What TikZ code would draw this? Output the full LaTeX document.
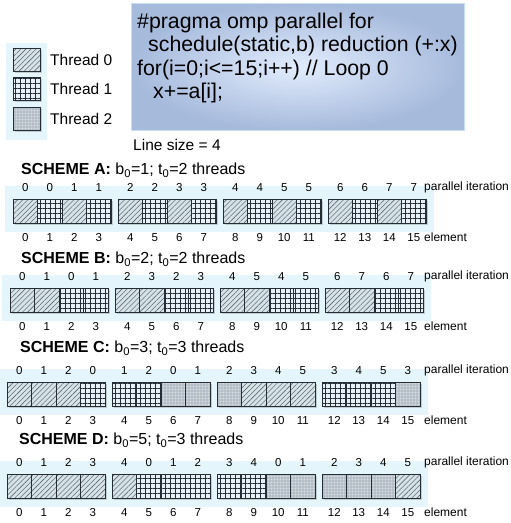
\documentclass[tikz,border=0pt]{standalone}
\usepackage{fontspec}
\setmainfont{Liberation Sans}
\usetikzlibrary{positioning, patterns.meta, shadows}
\definecolor{glow}{RGB}{228,246,252}
\definecolor{hatchbg}{RGB}{212,226,234}
\definecolor{gridbg}{RGB}{230,240,246}
\definecolor{dotbg}{RGB}{176,186,196}
\definecolor{codein}{RGB}{226,236,253}
\definecolor{codeout}{RGB}{166,186,220}
\definecolor{codeedge}{RGB}{200,222,242}
\definecolor{cellline}{RGB}{36,44,54}

\newcommand{\fs}[2]{\fontsize{#1}{#2}\selectfont}

\begin{document}
\begin{tikzpicture}[x=1pt, y=-1pt,
  cell/.style={
    rectangle, draw=cellline, line width=0.6pt,
    minimum width=24.5pt, minimum height=24pt,
    inner sep=0pt, outer sep=0pt,
    drop shadow={shadow xshift=1.5pt, shadow yshift=-2pt, opacity=0.35}
  },
  t0/.style={cell, preaction={fill=hatchbg},
    pattern={Lines[angle=45, distance=3.6pt, line width=0.4pt]},
    pattern color=black!70},
  t1/.style={cell, preaction={fill=gridbg},
    pattern={Hatch[angle=0, distance=5pt, line width=0.6pt]},
    pattern color=cellline},
  t2/.style={cell, preaction={fill=dotbg},
    pattern={Dots[distance=1.5pt, radius=0.35pt]},
    pattern color=white!85!dotbg},
  swatch/.style={minimum width=27pt, minimum height=23pt},
  num/.style={inner sep=0pt, font=\fs{11.5}{13}},
  side/.style={anchor=west, inner sep=0pt, font=\fs{12}{14}},
  title/.style={anchor=west, inner sep=0pt, font=\fs{16}{19}},
  legtxt/.style={inner sep=0pt, font=\fs{15.5}{18}},
  codebox/.style={rectangle, draw=codeedge, line width=0.8pt,
    inner color=codein, outer color=codeout,
    minimum width=333pt, minimum height=127pt, inner sep=0pt},
  codetxt/.style={inner sep=0pt, align=left, font=\fs{21.3}{23.3}}
]
  \useasboundingbox (0,0) rectangle (511,523);

  % legend
  \fill[glow] (6,43) rectangle (47,140);
  \node[t0, swatch] (leg0) at (26.5,59.5) {};
  \node[t1, swatch] (leg1) at (26.5,88.5) {};
  \node[t2, swatch] (leg2) at (26.5,118.5) {};
  \node[legtxt, right=10pt of leg0] (leg0txt) {Thread 0};
  \node[legtxt, right=10pt of leg1] (leg1txt) {Thread 1};
  \node[legtxt, right=10pt of leg2] (leg2txt) {Thread 2};

  % loop code
  \node[codebox, anchor=north west] (code) at (131,3) {};
  \node[codetxt, anchor=north west] (codetxt) at (137,13) {%
    \#pragma omp parallel for\\
    \hspace*{11pt}schedule(static,b) reduction (+:x)\\
    for(i=0;i<=15;i++) // Loop 0\\
    \hspace*{16pt}x+=a[i];};
  \node[legtxt, anchor=west] (lsize) at (133,145) {Line size = 4};

  % scheme titles
  \node[title] (schA) at (21,170) {\textbf{SCHEME A:} b\textsubscript{0}=1; t\textsubscript{0}=2 threads};
  \node[title] (schB) at (21,259) {\textbf{SCHEME B:} b\textsubscript{0}=2; t\textsubscript{0}=2 threads};
  \node[title] (schC) at (20,348) {\textbf{SCHEME C:} b\textsubscript{0}=3; t\textsubscript{0}=3 threads};
  \node[title] (schD) at (19,440) {\textbf{SCHEME D:} b\textsubscript{0}=5; t\textsubscript{0}=3 threads};

  \coordinate (sidex) at (424,0);

  % one row of 16 elements per scheme: thread/iteration
  \foreach \sch/\xo/\yo/\cells in {
    A/13/199/{0/0,1/0,0/1,1/1,0/2,1/2,0/3,1/3,0/4,1/4,0/5,1/5,0/6,1/6,0/7,1/7},
    B/10/288/{0/0,0/1,1/0,1/1,0/2,0/3,1/2,1/3,0/4,0/5,1/4,1/5,0/6,0/7,1/6,1/7},
    C/7/382/{0/0,0/1,0/2,1/0,1/1,1/2,2/0,2/1,2/2,0/3,0/4,0/5,1/3,1/4,1/5,2/3},
    D/7/474/{0/0,0/1,0/2,0/3,0/4,1/0,1/1,1/2,1/3,1/4,2/0,2/1,2/2,2/3,2/4,0/5}}{
    \fill[glow] (\xo-8,\yo-13) rectangle (\xo+421,\yo+33);
    \foreach \tid/\pit [count=\n from 0] in \cells {
      \pgfmathsetmacro\cx{\xo+int(\n/4)*105+(mod(\n,4)+0.5)*24.5}
      \node[t\tid] (\sch\n) at (\cx,\yo+12) {};
      \node[num, above=7pt of \sch\n] (\sch it\n) {\pit};
      \node[num, below=10pt of \sch\n] (\sch el\n) {\n};
    }
    \node[side] (\sch pit) at (\sch it15 -| sidex) {parallel iteration};
    \node[side] (\sch elt) at (\sch el15 -| sidex) {element};
  }
\end{tikzpicture}
\end{document}
